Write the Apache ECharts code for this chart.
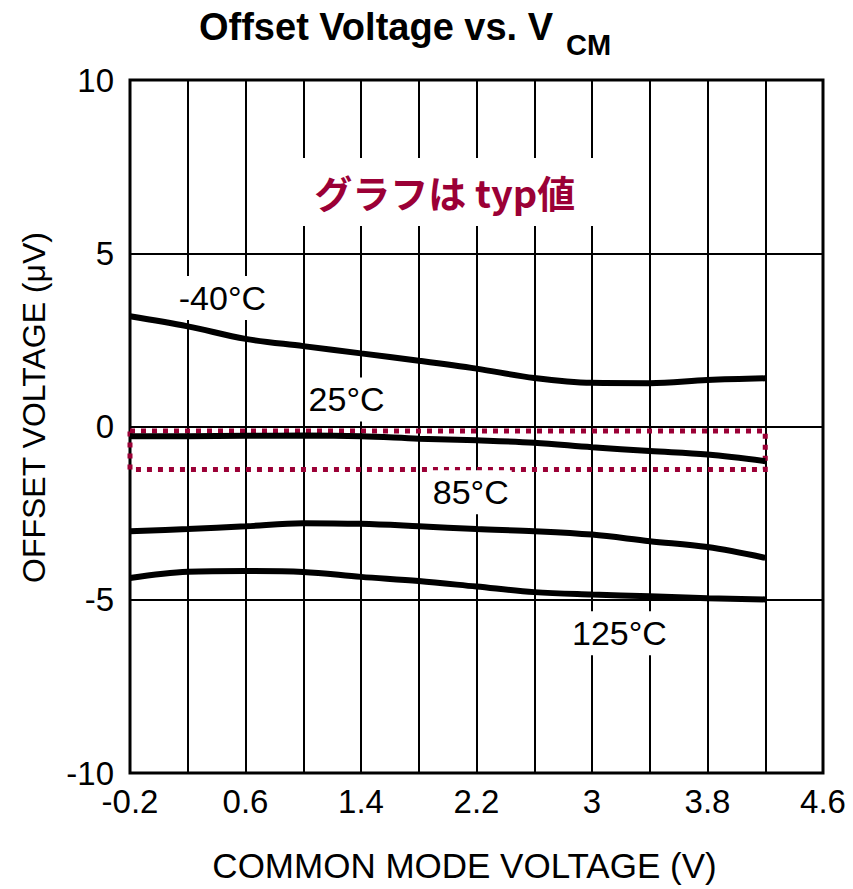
<!DOCTYPE html>
<html>
<head>
<meta charset="utf-8">
<script src="https://cdn.jsdelivr.net/npm/echarts@6/dist/echarts.min.js"></script>
<style>
html,body{margin:0;padding:0;background:#fff;}
#c{width:853px;height:889px;}
</style>
</head>
<body>
<div id="c"></div>
<script>
// ---- data ----
const vcm = [-0.2, 0.2, 0.6, 1.0, 1.4, 1.8, 2.2, 2.6, 3.0, 3.4, 3.8, 4.2];
const offsetM40 = [3.18, 2.89, 2.53, 2.32, 2.11, 1.90, 1.67, 1.40, 1.26, 1.25, 1.34, 1.39];
const offset25  = [-0.28, -0.28, -0.27, -0.26, -0.28, -0.35, -0.40, -0.47, -0.60, -0.71, -0.81, -1.00];
const offset85  = [-3.02, -2.96, -2.88, -2.79, -2.81, -2.88, -2.96, -3.02, -3.12, -3.31, -3.48, -3.79];
const offset125 = [-4.37, -4.19, -4.17, -4.20, -4.34, -4.46, -4.62, -4.78, -4.85, -4.90, -4.96, -4.99];
const seriesNames = ['-40°C', '25°C', '85°C', '125°C'];
// label anchor positions (data coords)
const labelX = [0.44, 1.30, 2.16, 3.19];
const labelY = [3.71, 0.78, -1.90, -5.97];
const noteText = 'グラフは typ値';
const notePos = [1.98, 6.77];
const highlightBox = [-0.2, -0.13, 4.2, -1.24];
const xMin = -0.2, xMax = 4.6, xStep = 0.4;
const yMin = -10, yMax = 10, yStep = 5;

const FONT = "'Liberation Sans', Arial, sans-serif";
const CRIMSON = '#9B0036';

function pairs(xs, ys){ return xs.map((x,i)=>[x, ys[i]]); }

const lineStyleBase = {color:'#000', width:6};
const curves = [offsetM40, offset25, offset85, offset125].map((ys, i) => ({
  name: seriesNames[i],
  type: 'line',
  data: pairs(vcm, ys),
  smooth: 0.35,
  symbol: 'none',
  lineStyle: lineStyleBase,
  itemStyle: {color:'#000'},
  z: 3,
  silent: true
}));

curves[1].markArea = {
  silent: true,
  itemStyle: {color:'rgba(0,0,0,0)', borderColor: CRIMSON, borderWidth: 5, borderType: [5,6]},
  data: [[{xAxis: highlightBox[0], yAxis: highlightBox[1]}, {xAxis: highlightBox[2], yAxis: highlightBox[3]}]]
};

const labelSeries = {
  type: 'scatter',
  symbolSize: 0,
  silent: true,
  z: 5,
  itemStyle: {opacity: 1},
  data: seriesNames.map((n,i)=>({value:[labelX[i], labelY[i]], name:n})),
  label: {
    show: true, position: 'inside', formatter: p => p.name, opacity: 1,
    color:'#000', fontSize: 34, fontFamily: FONT,
    backgroundColor:'#fff', padding:[5,3]
  }
};

const noteSeries = {
  type: 'scatter',
  symbolSize: 0,
  silent: true,
  z: 5,
  itemStyle: {opacity: 1},
  data: [{value: notePos, name: noteText}],
  label: {
    show: true, position:'inside', formatter: p => p.name, opacity: 1,
    color: CRIMSON, fontSize: 38, fontWeight:'bold',
    fontFamily: "'Noto Sans CJK JP', sans-serif",
    backgroundColor:'#fff', padding:[15,18]
  }
};

const chart = echarts.init(document.getElementById('c'), null, {renderer:'svg'});
chart.setOption({
  backgroundColor:'#fff',
  animation:false,
  title: [
    {text:'Offset Voltage vs. V', left:199, top:8, padding:0,
     textStyle:{fontSize:38, fontWeight:'bold', color:'#000', fontFamily:FONT}},
    {text:'CM', left:566, top:30, padding:0,
     textStyle:{fontSize:29, fontWeight:'bold', color:'#000', fontFamily:FONT}}
  ],
  grid: {left:130, right:30, top:80, bottom:116, show:true, borderColor:'#000', borderWidth:3, containLabel:false},
  xAxis: {
    type:'value', min:xMin, max:xMax, interval:xStep,
    name:'COMMON MODE VOLTAGE (V)', nameLocation:'middle', nameGap:75,
    nameTextStyle:{fontSize:35, color:'#000', fontFamily:FONT, padding:[0,24,0,0]},
    axisLine:{show:false}, axisTick:{show:false},
    axisLabel:{
      color:'#000', fontSize:33, fontFamily:FONT, margin:12,
      showMinLabel:true, showMaxLabel:true,
      formatter: v => {
        const i = Math.round((v - xMin)/xStep);
        return i % 2 === 0 ? String(Number(v.toFixed(1))) : '';
      }
    },
    splitLine:{show:true, lineStyle:{color:'#000', width:2}}
  },
  yAxis: {
    type:'value', min:yMin, max:yMax, interval:yStep,
    name:'OFFSET VOLTAGE (μV)', nameLocation:'middle', nameGap:80,
    nameTextStyle:{fontSize:32, color:'#000', fontFamily:FONT, padding:[0,0,0,38]},
    axisLine:{show:false}, axisTick:{show:false},
    axisLabel:{color:'#000', fontSize:33, fontFamily:FONT, margin:16},
    splitLine:{show:true, lineStyle:{color:'#000', width:2}}
  },
  series: [...curves, labelSeries, noteSeries]
});
</script>
</body>
</html>
